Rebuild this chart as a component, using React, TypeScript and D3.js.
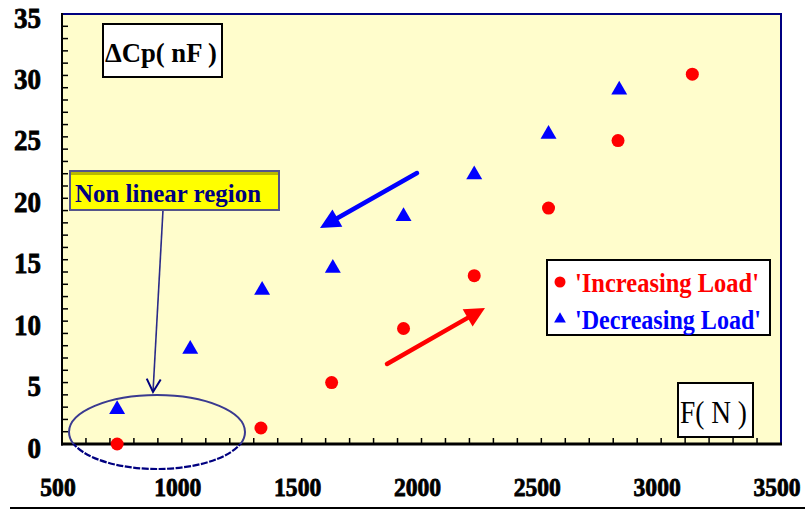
import React from "react";
import * as d3 from "d3";

// Force F (N) and capacitance change ΔCp (nF)
const increasingForce = [730, 1330, 1625, 1925, 2220, 2530, 2820, 3130];
const increasingCap = [0.0, 1.3, 5.0, 9.4, 13.7, 19.2, 24.7, 30.1];
const decreasingForce = [730, 1035, 1335, 1630, 1925, 2220, 2530, 2825];
const decreasingCap = [2.9, 7.8, 12.6, 14.4, 18.6, 22.0, 25.3, 28.9];

const xTickLabels = [500, 1000, 1500, 2000, 2500, 3000, 3500];
const yTickLabels = [0, 5, 10, 15, 20, 25, 30, 35];

const W = 805;
const H = 510;
const plot = { left: 62, right: 781, top: 14, bottom: 444 };

const x = d3.scaleLinear().domain([500, 3500]).range([plot.left, plot.right]);
const y = d3.scaleLinear().domain([0, 35]).range([plot.bottom, plot.top]);

const serif = "'Liberation Serif', 'Times New Roman', serif";

function arrowHead(x1: number, y1: number, x2: number, y2: number, len: number, half: number) {
  const a = Math.atan2(y2 - y1, x2 - x1);
  const bx = x2 - len * Math.cos(a);
  const by = y2 - len * Math.sin(a);
  const px = -Math.sin(a) * half;
  const py = Math.cos(a) * half;
  return `M${x2},${y2}L${bx + px},${by + py}L${bx - px},${by - py}Z`;
}

function openHead(x1: number, y1: number, x2: number, y2: number, len: number, half: number) {
  const a = Math.atan2(y2 - y1, x2 - x1);
  const bx = x2 - len * Math.cos(a);
  const by = y2 - len * Math.sin(a);
  const px = -Math.sin(a) * half;
  const py = Math.cos(a) * half;
  return `M${bx + px},${by + py}L${x2},${y2}L${bx - px},${by - py}`;
}

export default function App() {
  const tri = d3.symbol().type(d3.symbolTriangle).size(110)() as string;
  const legendTri = d3.symbol().type(d3.symbolTriangle).size(60)() as string;
  const xMinor = d3.range(600, 3500, 100);
  const yMinor = d3.range(1, 35, 1);

  // blue and red trend arrows
  const blue = { x1: 417, y1: 173, x2: 320, y2: 228 };
  const red = { x1: 387, y1: 364, x2: 485, y2: 308 };
  // callout from the label box down to the ellipse
  const call = { x1: 163, y1: 210, x2: 153, y2: 392 };

  const ell = { cx: 157, cy: 432, rx: 88, ry: 37 };

  return (
    <svg
      width={W}
      height={H}
      style={{ position: "absolute", left: 0, top: 0, background: "#fff" }}
    >
      <defs>
        <clipPath id="inside">
          <rect x={plot.left} y={plot.top} width={plot.right - plot.left} height={plot.bottom - plot.top} />
        </clipPath>
        <clipPath id="outside">
          <rect x={0} y={plot.bottom} width={W} height={H - plot.bottom} />
        </clipPath>
      </defs>

      {/* plot background */}
      <rect
        x={plot.left}
        y={plot.top}
        width={plot.right - plot.left}
        height={plot.bottom - plot.top}
        fill="#FFFDCC"
      />
      {/* top and right frame */}
      <path
        d={`M${plot.left},${plot.top}H${plot.right}V${plot.bottom}`}
        fill="none"
        stroke="#000080"
        strokeWidth={2}
      />

      {/* minor ticks */}
      {xMinor.map((v) => (
        <line key={"xt" + v} x1={x(v)} x2={x(v)} y1={plot.bottom} y2={plot.bottom - 6} stroke="#000" strokeWidth={1.5} />
      ))}
      {yMinor.map((v) => (
        <line key={"yt" + v} x1={plot.left} x2={plot.left + 6} y1={y(v)} y2={y(v)} stroke="#000" strokeWidth={1.5} />
      ))}

      {/* axes */}
      <line x1={plot.left} x2={plot.left} y1={plot.top - 1} y2={plot.bottom + 1.5} stroke="#000" strokeWidth={2} />
      <line x1={plot.left - 1} x2={plot.right + 1} y1={plot.bottom} y2={plot.bottom} stroke="#000" strokeWidth={3} />

      {/* tick labels */}
      {yTickLabels.map((v) => (
        <text
          key={"yl" + v}
          x={41}
          y={y(v) + 13.5}
          textAnchor="end"
          fontFamily={serif}
          fontWeight="bold"
          fontSize={29}
          stroke="#000"
          strokeWidth={0.8}
          textLength={String(v).length * 13.5}
          lengthAdjust="spacingAndGlyphs"
        >
          {v}
        </text>
      ))}
      {xTickLabels.map((v) => (
        <text
          key={"xl" + v}
          x={x(v) - 4}
          y={496}
          textAnchor="middle"
          fontFamily={serif}
          fontWeight="bold"
          fontSize={25}
          stroke="#000"
          strokeWidth={0.8}
          textLength={String(v).length * 11.8}
          lengthAdjust="spacingAndGlyphs"
        >
          {v}
        </text>
      ))}
      <line x1={10} x2={805} y1={508} y2={508} stroke="#000" strokeWidth={2} />

      {/* axis title boxes */}
      <rect x={103} y={24} width={119} height={53} fill="#fff" stroke="#000" strokeWidth={2} />
      <text
        x={105}
        y={62}
        fontFamily={serif}
        fontWeight="bold"
        fontSize={28}
        fill="#000"
        textLength={112}
        lengthAdjust="spacingAndGlyphs"
      >
        ΔCp( nF )
      </text>
      <rect x={678} y={383} width={75} height={54} fill="#fff" stroke="#000" strokeWidth={2} />
      <text
        x={680}
        y={423}
        fontFamily={serif}
        fontSize={32}
        fill="#000"
        textLength={67}
        lengthAdjust="spacingAndGlyphs"
      >
        F( N )
      </text>

      {/* non-linear region callout */}
      <g clipPath="url(#inside)">
        <ellipse cx={ell.cx} cy={ell.cy} rx={ell.rx} ry={ell.ry} fill="none" stroke="#3a3a90" strokeWidth={2} />
      </g>
      <g clipPath="url(#outside)">
        <ellipse
          cx={ell.cx}
          cy={ell.cy}
          rx={ell.rx}
          ry={ell.ry}
          fill="none"
          stroke="#000080"
          strokeWidth={2.2}
          strokeDasharray="7 1.5"
        />
      </g>
      <line x1={call.x1} y1={call.y1} x2={call.x2} y2={call.y2} stroke="#2a2a88" strokeWidth={1.6} />
      <path d={openHead(call.x1, call.y1, call.x2, call.y2, 13, 7)} fill="none" stroke="#000080" strokeWidth={2} />

      <rect x={70} y={171} width={209} height={39} fill="#FFFF00" stroke="#55558a" strokeWidth={2} />
      <line x1={71} x2={278} y1={173.5} y2={173.5} stroke="#b8b800" strokeWidth={3} />
      <text
        x={75}
        y={202}
        fontFamily={serif}
        fontWeight="bold"
        fontSize={26}
        fill="#000080"
        textLength={186}
        lengthAdjust="spacingAndGlyphs"
      >
        Non linear region
      </text>

      {/* trend arrows */}
      <line
        x1={blue.x1}
        y1={blue.y1}
        x2={blue.x2 + (blue.x1 - blue.x2) * 0.15}
        y2={blue.y2 + (blue.y1 - blue.y2) * 0.15}
        stroke="#0000FF"
        strokeWidth={4.5}
        strokeLinecap="round"
      />
      <path d={arrowHead(blue.x1, blue.y1, blue.x2, blue.y2, 20, 10)} fill="#0000FF" />
      <line
        x1={red.x1}
        y1={red.y1}
        x2={red.x2 - (red.x2 - red.x1) * 0.15}
        y2={red.y2 - (red.y2 - red.y1) * 0.15}
        stroke="#FF0000"
        strokeWidth={4.5}
        strokeLinecap="round"
      />
      <path d={arrowHead(red.x1, red.y1, red.x2, red.y2, 20, 10)} fill="#FF0000" />

      {/* data */}
      {increasingForce.map((f, i) => (
        <circle key={"inc" + i} cx={x(f)} cy={y(increasingCap[i])} r={6.5} fill="#FF0000" />
      ))}
      {decreasingForce.map((f, i) => (
        <path
          key={"dec" + i}
          d={tri}
          transform={`translate(${x(f)},${y(decreasingCap[i]) + 1})`}
          fill="#0000FF"
        />
      ))}

      {/* legend */}
      <rect x={547} y={260} width={223} height={75} fill="#fff" stroke="#000" strokeWidth={2} />
      <circle cx={560} cy={282} r={5.5} fill="#FF0000" />
      <text
        x={575}
        y={292}
        fontFamily={serif}
        fontWeight="bold"
        fontSize={28}
        fill="#FF0000"
        textLength={184}
        lengthAdjust="spacingAndGlyphs"
      >
        'Increasing Load'
      </text>
      <path d={legendTri} transform="translate(560,319)" fill="#0000FF" />
      <text
        x={575}
        y={329}
        fontFamily={serif}
        fontWeight="bold"
        fontSize={28}
        fill="#0000FF"
        textLength={186}
        lengthAdjust="spacingAndGlyphs"
      >
        'Decreasing Load'
      </text>
    </svg>
  );
}
